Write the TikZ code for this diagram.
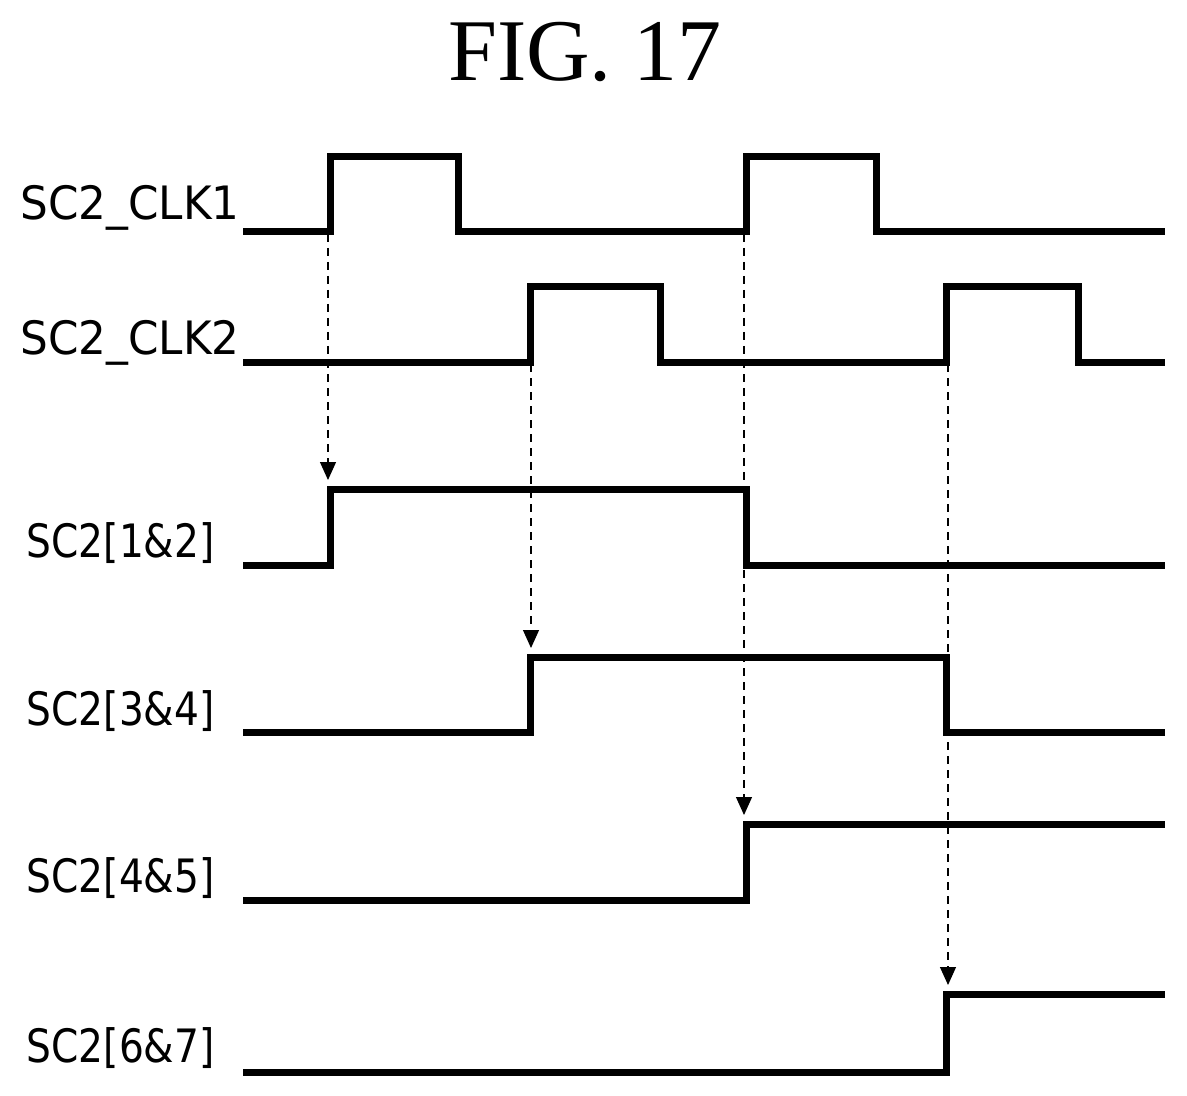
\documentclass[tikz,border=0pt]{standalone}
\usepackage{fontspec}
\setmainfont{DejaVu Sans}[FakeStretch=0.95]
\newfontfamily\narrowf{DejaVu Sans}[FakeStretch=0.85]
\newfontfamily\figfont{Liberation Serif}
\usetikzlibrary{arrows.meta}
\begin{document}
\begin{tikzpicture}[x=0.5pt,y=-0.5pt,
  sig/.style={line width=3.5pt,line join=miter},
  dep/.style={line width=0.6pt,dash pattern=on 4pt off 3pt,-{Triangle[length=9pt,width=8pt]}},
  lab/.style={anchor=east,font=\fontsize{23}{26}\selectfont,inner sep=0pt},
  blab/.style={lab,font=\narrowf\fontsize{23}{26}\selectfont}]
\useasboundingbox (0,0) rectangle (1187,1096);
\node[font=\figfont\fontsize{44}{48}\selectfont] (title) at (585,52) {FIG. 17};
\node[lab] (l1) at (240,208) {SC2\_CLK1};
\node[lab] (l2) at (240,343) {SC2\_CLK2};
\node[blab] (l3) at (215,543) {SC2[1\&2]};
\node[blab] (l4) at (215,711) {SC2[3\&4]};
\node[blab] (l5) at (215,878) {SC2[4\&5]};
\node[blab] (l6) at (215,1048) {SC2[6\&7]};
\draw[sig] (243,232) -- (330,232) -- (330,157) -- (458,157) -- (458,232) -- (746,232) -- (746,157) -- (876,157) -- (876,232) -- (1165,232);
\draw[sig] (243,362) -- (530,362) -- (530,287) -- (660,287) -- (660,362) -- (946,362) -- (946,287) -- (1078,287) -- (1078,362) -- (1165,362);
\draw[sig] (243,565) -- (330,565) -- (330,489) -- (746,489) -- (746,565) -- (1165,565);
\draw[sig] (243,732) -- (530,732) -- (530,657) -- (946,657) -- (946,732) -- (1165,732);
\draw[sig] (243,900) -- (746,900) -- (746,824) -- (1165,824);
\draw[sig] (243,1072) -- (946,1072) -- (946,994) -- (1165,994);
\coordinate (a1) at (328,234); \coordinate (b1) at (328,480);
\coordinate (a2) at (531,364); \coordinate (b2) at (531,648);
\coordinate (a3) at (744,234); \coordinate (b3) at (744,815);
\coordinate (a4) at (948,364); \coordinate (b4) at (948,985);
\draw[dep] (a1) -- (b1);
\draw[dep] (a2) -- (b2);
\draw[dep] (a3) -- (b3);
\draw[dep] (a4) -- (b4);
\end{tikzpicture}
\end{document}
